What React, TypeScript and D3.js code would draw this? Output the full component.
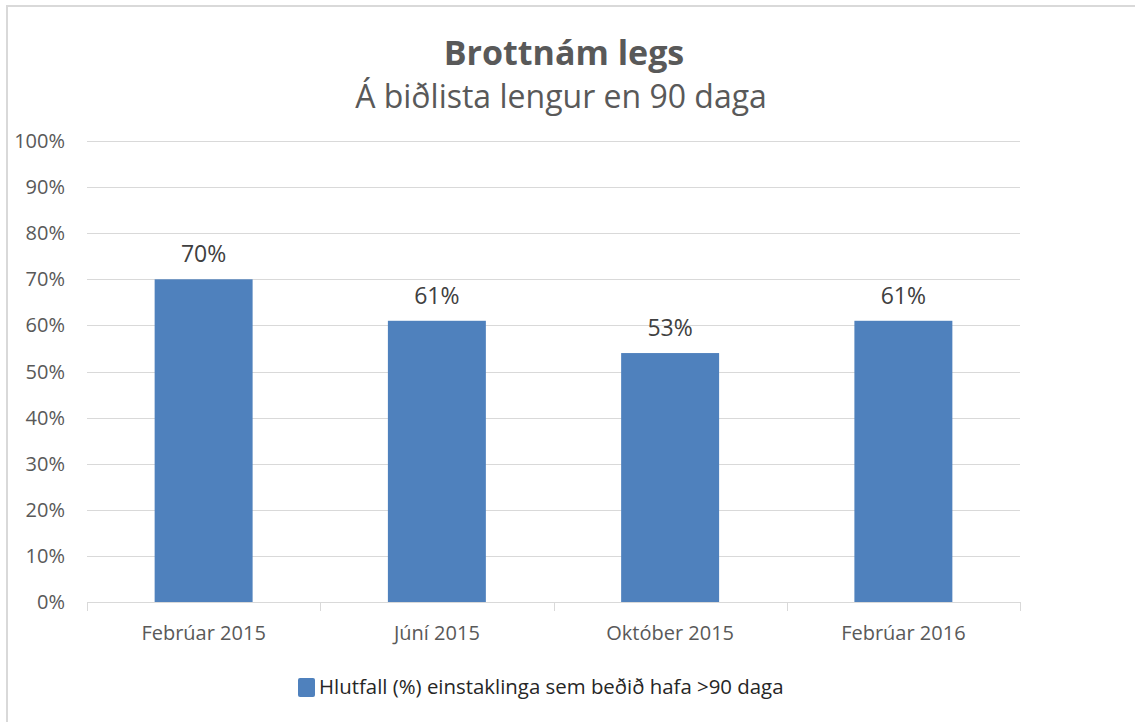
import React from "react";
import * as d3 from "d3";

const categories = ["Febrúar 2015", "Júní 2015", "Október 2015", "Febrúar 2016"];
const values = [0.70, 0.61, 0.54, 0.61];
const valueLabels = ["70%", "61%", "53%", "61%"];
const yTicks = [0, 0.1, 0.2, 0.3, 0.4, 0.5, 0.6, 0.7, 0.8, 0.9, 1.0];
const title = "Brottnám legs";
const subtitle = "Á biðlista lengur en 90 daga";
const seriesName = "Hlutfall (%) einstaklinga sem beðið hafa >90 daga";

const W = 1135;
const H = 722;
const FONT = "'Open Sans', 'Noto Sans', sans-serif";
const BAR = "#4f81bd";
const GRID = "#d9d9d9";

export default function App() {
  const x = d3.scaleBand<string>().domain(categories).range([87, 1020]).paddingInner(0.58).paddingOuter(0.29);
  const xCat = d3.scaleBand<string>().domain(categories).range([87, 1020]).padding(0);
  const y = d3.scaleLinear().domain([0, 1]).range([602, 141]);
  const fmt = d3.format(".0%");
  const boundaries = [...categories.map((c) => xCat(c)!), 1020];

  return (
    <svg width={W} height={H} style={{ position: "absolute", left: 0, top: 0, background: "#fff" }} fontFamily={FONT}>
      <rect x={0} y={0} width={W} height={H} fill="#fff" />
      <rect x={7} y={6} width={W + 20} height={H + 20} fill="#fff" stroke={GRID} strokeWidth={2} />
      <text x={564} y={65} textAnchor="middle" fontSize={34} fontWeight="bold" fill="#595959">{title}</text>
      <text x={561} y={108} textAnchor="middle" fontSize={32} fill="#595959">{subtitle}</text>
      {yTicks.map((t) => (
        <g key={t}>
          <line x1={87} x2={1020} y1={Math.round(y(t)) + 0.5} y2={Math.round(y(t)) + 0.5} stroke={GRID} strokeWidth={1} />
          <text x={65} y={y(t)} dy="0.35em" textAnchor="end" fontSize={20} fill="#595959">{fmt(t)}</text>
        </g>
      ))}
      {boundaries.map((b, i) => (
        <line key={i} x1={Math.round(b) + 0.5} x2={Math.round(b) + 0.5} y1={602} y2={611} stroke={GRID} strokeWidth={1} />
      ))}
      {categories.map((c, i) => (
        <g key={c}>
          <rect x={x(c)!} y={y(values[i])} width={x.bandwidth()} height={y(0) - y(values[i])} fill={BAR} />
          <text x={x(c)! + x.bandwidth() / 2} y={y(values[i]) - 17} textAnchor="middle" fontSize={23} fill="#404040">{valueLabels[i]}</text>
          <text x={xCat(c)! + xCat.bandwidth() / 2} y={640} textAnchor="middle" fontSize={20} fill="#595959">{c}</text>
        </g>
      ))}
      <rect x={298} y={678} width={17} height={19} rx={2} fill={BAR} />
      <text x={319} y={694} fontSize={20.4} fill="#262626">{seriesName}</text>
    </svg>
  );
}
